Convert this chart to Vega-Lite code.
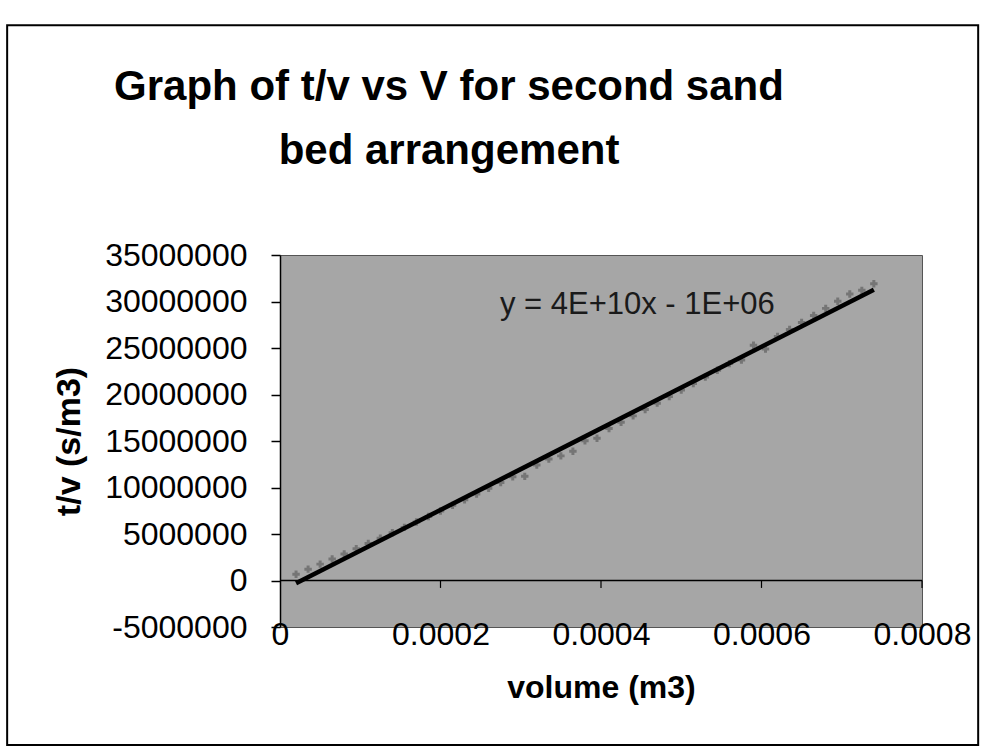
{
  "$schema": "https://vega.github.io/schema/vega-lite/v6.json",
  "width": 642,
  "height": 372,
  "autosize": {"type": "none"},
  "padding": {"left": 280, "top": 255, "right": 66, "bottom": 126},
  "background": "white",
  "title": {
    "text": ["Graph of t/v vs V for second sand", "bed arrangement"],
    "font": "Liberation Sans",
    "fontSize": 42,
    "fontWeight": "bold",
    "color": "black",
    "anchor": "middle",
    "dx": -152,
    "offset": -149,
    "lineHeight": 64
  },
  "config": {
    "font": "Liberation Sans",
    "view": {"fill": "#a6a6a6", "stroke": "#555555", "strokeWidth": 1}
  },
  "data": {
    "values": [
      {"vol": 0.00002, "tv": 680000},
      {"vol": 0.000035, "tv": 1220000},
      {"vol": 0.00005, "tv": 1760000},
      {"vol": 0.000065, "tv": 2310000},
      {"vol": 0.00008, "tv": 2860000},
      {"vol": 0.000095, "tv": 3420000},
      {"vol": 0.00011, "tv": 3980000},
      {"vol": 0.000125, "tv": 4550000},
      {"vol": 0.00014, "tv": 5130000},
      {"vol": 0.000155, "tv": 5710000},
      {"vol": 0.00017, "tv": 6290000},
      {"vol": 0.000185, "tv": 6880000},
      {"vol": 0.0002, "tv": 7480000},
      {"vol": 0.000215, "tv": 8080000},
      {"vol": 0.00023, "tv": 8680000},
      {"vol": 0.000245, "tv": 9290000},
      {"vol": 0.00026, "tv": 9910000},
      {"vol": 0.000275, "tv": 10530000},
      {"vol": 0.00029, "tv": 11150000},
      {"vol": 0.000305, "tv": 11200000},
      {"vol": 0.00032, "tv": 12420000},
      {"vol": 0.000335, "tv": 13060000},
      {"vol": 0.00035, "tv": 13400000},
      {"vol": 0.000365, "tv": 13900000},
      {"vol": 0.00038, "tv": 15020000},
      {"vol": 0.000395, "tv": 15300000},
      {"vol": 0.00041, "tv": 16350000},
      {"vol": 0.000425, "tv": 17020000},
      {"vol": 0.00044, "tv": 17700000},
      {"vol": 0.000455, "tv": 18390000},
      {"vol": 0.00047, "tv": 19070000},
      {"vol": 0.000485, "tv": 19770000},
      {"vol": 0.0005, "tv": 20470000},
      {"vol": 0.000515, "tv": 21170000},
      {"vol": 0.00053, "tv": 21880000},
      {"vol": 0.000545, "tv": 22600000},
      {"vol": 0.00056, "tv": 23320000},
      {"vol": 0.000575, "tv": 23700000},
      {"vol": 0.00059, "tv": 25300000},
      {"vol": 0.000605, "tv": 24900000},
      {"vol": 0.00062, "tv": 26250000},
      {"vol": 0.000635, "tv": 26990000},
      {"vol": 0.00065, "tv": 27740000},
      {"vol": 0.000665, "tv": 28500000},
      {"vol": 0.00068, "tv": 29260000},
      {"vol": 0.000695, "tv": 30030000},
      {"vol": 0.00071, "tv": 30800000},
      {"vol": 0.000725, "tv": 31200000},
      {"vol": 0.00074, "tv": 31900000}
    ]
  },
  "layer": [
    {
      "mark": {"type": "point", "shape": "cross", "filled": true, "size": 55, "color": "#3a3a3a", "opacity": 0.45},
      "encoding": {
        "x": {
          "field": "vol",
          "type": "quantitative",
          "scale": {"domain": [0, 0.0008], "nice": false, "zero": false},
          "axis": {
            "values": [0, 0.0002, 0.0004, 0.0006, 0.0008],
            "labelExpr": "'' + datum.value",
            "labelFontSize": 32,
            "labelColor": "black",
            "labelFlush": false,
            "labelPadding": -8,
            "ticks": false,
            "domain": false,
            "grid": false,
            "title": "volume (m3)",
            "titleFontSize": 32,
            "titleFontWeight": "bold",
            "titleColor": "black",
            "titlePadding": 22
          }
        },
        "y": {
          "field": "tv",
          "type": "quantitative",
          "scale": {"domain": [-5000000, 35000000], "nice": false, "zero": false},
          "axis": {
            "values": [-5000000, 0, 5000000, 10000000, 15000000, 20000000, 25000000, 30000000, 35000000],
            "labelExpr": "'' + datum.value",
            "labelFontSize": 32,
            "labelColor": "black",
            "labelFlush": false,
            "labelPadding": 24,
            "tickSize": 9,
            "tickColor": "black",
            "tickWidth": 1.5,
            "domainColor": "black",
            "domainWidth": 1.5,
            "grid": false,
            "title": "t/v (s/m3)",
            "titleFontSize": 34,
            "titleFontWeight": "bold",
            "titleColor": "black",
            "titlePadding": 18
          }
        }
      }
    },
    {
      "transform": [{"regression": "tv", "on": "vol"}],
      "mark": {"type": "line", "color": "black", "strokeWidth": 4.5},
      "encoding": {
        "x": {"field": "vol", "type": "quantitative"},
        "y": {"field": "tv", "type": "quantitative"}
      }
    },
    {
      "data": {"values": [{}]},
      "mark": {"type": "rule", "color": "black", "strokeWidth": 1.5},
      "encoding": {"y": {"datum": 0, "type": "quantitative"}}
    },
    {
      "data": {"values": [{"t": 0.0002}, {"t": 0.0004}, {"t": 0.0006}, {"t": 0.0008}]},
      "mark": {"type": "rule", "color": "black", "strokeWidth": 1.2},
      "encoding": {
        "x": {"field": "t", "type": "quantitative"},
        "y": {"datum": 0, "type": "quantitative"},
        "y2": {"datum": -800000}
      }
    },
    {
      "data": {"values": [{"label": "y = 4E+10x - 1E+06"}]},
      "mark": {"type": "text", "align": "left", "baseline": "middle", "fontSize": 31, "color": "#1a1a1a"},
      "encoding": {
        "x": {"datum": 0.000274, "type": "quantitative"},
        "y": {"datum": 29600000, "type": "quantitative"},
        "text": {"field": "label"}
      }
    },
    {
      "data": {"values": [{}]},
      "mark": {"type": "rect", "fill": null, "stroke": "black", "strokeWidth": 2, "clip": false},
      "encoding": {
        "x": {"datum": -0.00034, "type": "quantitative"},
        "x2": {"datum": 0.00087},
        "y": {"datum": 59700000, "type": "quantitative"},
        "y2": {"datum": -17700000}
      }
    }
  ]
}
